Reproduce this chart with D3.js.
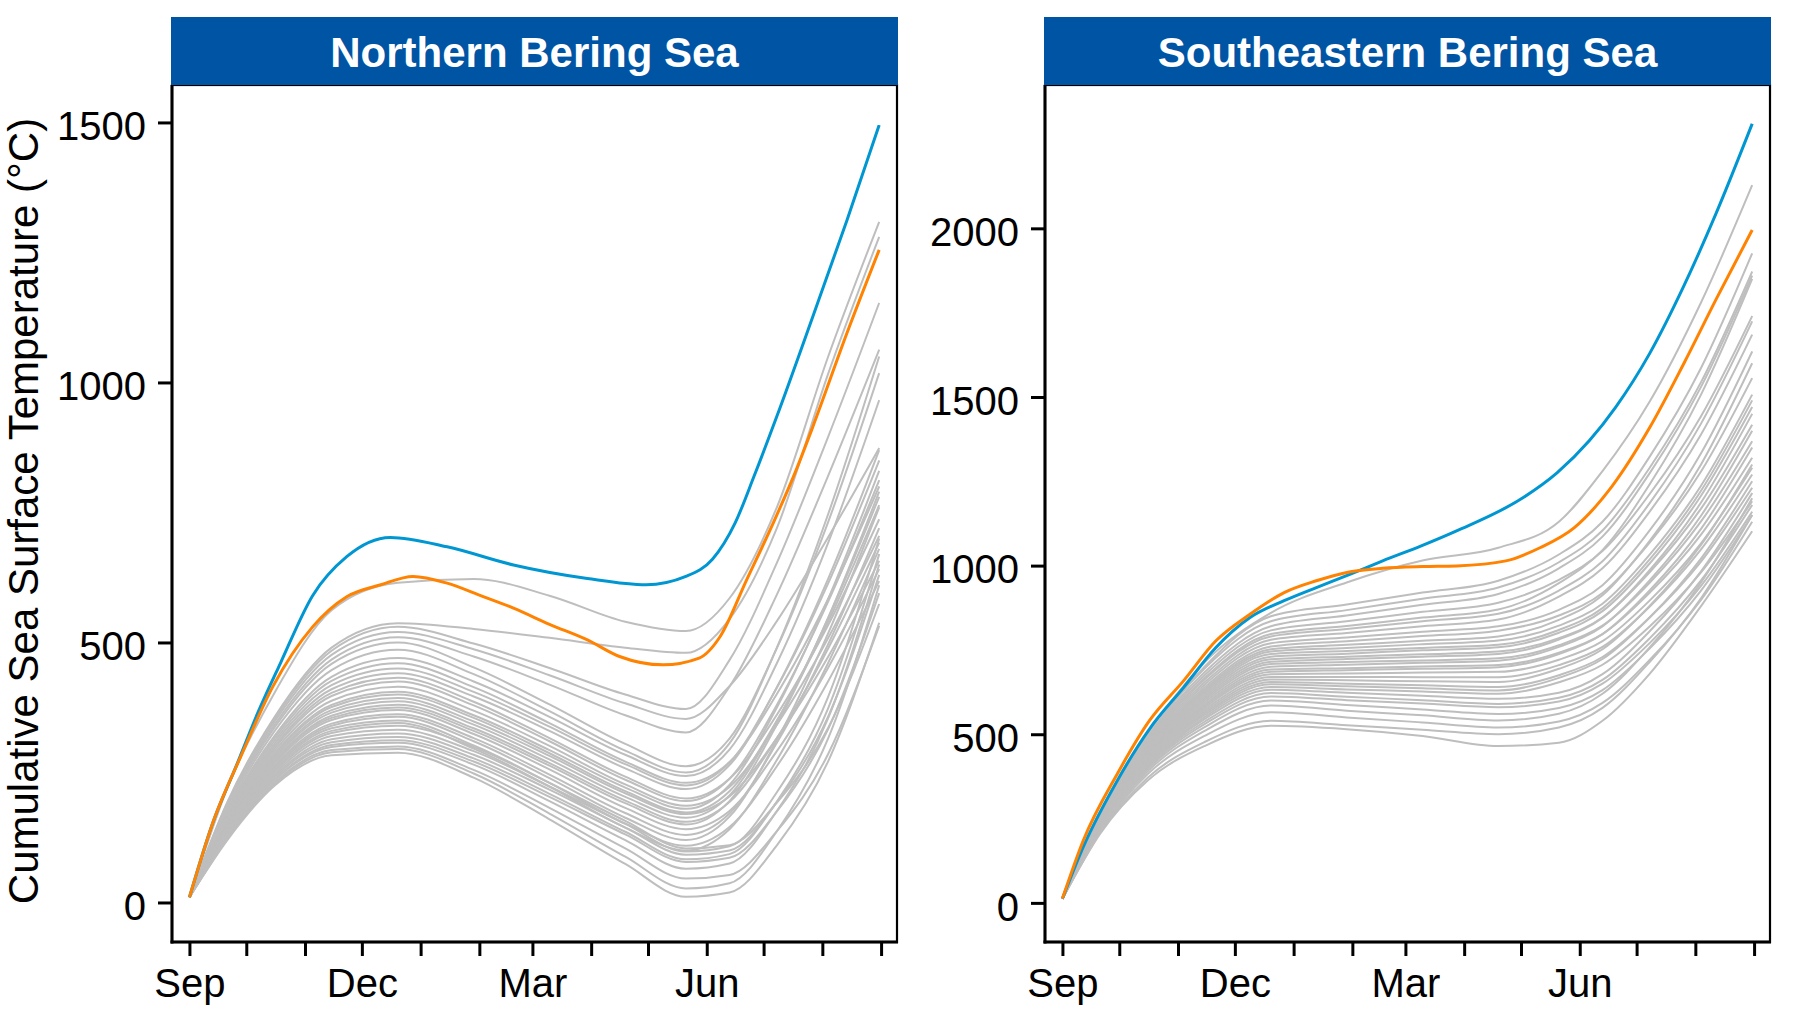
<!DOCTYPE html>
<html>
<head>
<meta charset="utf-8">
<script src="https://cdnjs.cloudflare.com/ajax/libs/d3/7.8.5/d3.min.js"></script>
<style>
  body { margin: 0; background: #fff; }
  text { font-family: "Liberation Sans", Arial, sans-serif; }
</style>
</head>
<body>
<script>
// days since Sep 1 at which the grey (historic) years are sampled
var sampleDays = [0, 20, 45, 75, 110, 150, 190, 230, 262, 285, 310, 337, 364];

var monthLabels = ["Sep", "Dec", "Mar", "Jun"];
var northTicks = [0, 500, 1000, 1500];
var southTicks = [0, 500, 1000, 1500, 2000];

// Northern Bering Sea
var northGray = [
  [10, 220, 404, 562, 615, 622, 590, 540, 522, 585, 760, 1049, 1309],
  [10, 193, 357, 490, 537, 526, 509, 490, 480, 545, 720, 1016, 1280],
  [10, 191, 353, 484, 530, 498, 451, 400, 372, 466, 653, 895, 1153],
  [10, 188, 348, 476, 520, 487, 437, 383, 353, 416, 541, 702, 874],
  [10, 185, 342, 467, 510, 473, 419, 360, 327, 415, 592, 820, 1063],
  [10, 183, 337, 459, 500, 452, 381, 305, 262, 315, 489, 731, 1018],
  [10, 178, 330, 447, 486, 439, 368, 292, 250, 306, 490, 746, 1050],
  [10, 174, 321, 434, 470, 425, 357, 284, 243, 294, 460, 691, 966],
  [10, 171, 316, 426, 460, 414, 345, 271, 230, 270, 401, 583, 800],
  [10, 168, 311, 418, 450, 405, 338, 266, 225, 269, 413, 613, 850],
  [10, 165, 306, 410, 441, 396, 330, 258, 218, 264, 414, 622, 870],
  [10, 162, 301, 403, 432, 386, 316, 242, 200, 238, 361, 533, 737],
  [10, 160, 297, 397, 425, 379, 310, 236, 195, 238, 380, 578, 812],
  [10, 157, 292, 388, 415, 369, 301, 227, 186, 222, 342, 508, 705],
  [10, 154, 287, 380, 405, 360, 293, 221, 180, 226, 375, 583, 830],
  [10, 153, 284, 376, 400, 355, 287, 214, 173, 214, 350, 539, 764],
  [10, 151, 280, 370, 393, 348, 282, 210, 170, 204, 316, 472, 657],
  [10, 149, 277, 365, 387, 342, 275, 203, 163, 206, 348, 546, 780],
  [10, 147, 273, 359, 380, 335, 268, 196, 155, 193, 316, 488, 692],
  [10, 146, 271, 355, 375, 330, 263, 191, 150, 195, 342, 547, 790],
  [10, 144, 268, 351, 370, 324, 256, 182, 141, 176, 291, 451, 641],
  [10, 142, 264, 344, 362, 316, 246, 172, 130, 171, 307, 496, 720],
  [10, 140, 261, 340, 357, 310, 239, 163, 120, 165, 312, 517, 760],
  [10, 138, 258, 335, 350, 302, 230, 152, 109, 145, 262, 425, 618],
  [10, 137, 255, 330, 345, 296, 223, 144, 100, 141, 274, 460, 680],
  [10, 135, 252, 326, 340, 299, 230, 157, 104, 110, 192, 335, 574],
  [10, 133, 248, 320, 332, 291, 223, 151, 98, 108, 212, 395, 700],
  [10, 131, 244, 314, 325, 284, 217, 144, 92, 100, 193, 357, 630],
  [10, 129, 241, 308, 318, 277, 209, 136, 83, 93, 194, 373, 670],
  [10, 127, 237, 303, 312, 271, 203, 131, 78, 86, 175, 333, 595],
  [10, 126, 235, 299, 307, 265, 195, 120, 65, 75, 176, 354, 650],
  [10, 124, 231, 293, 300, 255, 182, 104, 46, 53, 137, 285, 532],
  [10, 122, 228, 289, 295, 248, 171, 88, 27, 37, 137, 315, 610],
  [10, 120, 225, 283, 288, 240, 160, 74, 11, 19, 110, 271, 538]
];
var northBlueDays = [0, 12, 25, 36, 48, 65, 83, 106, 136, 171, 210, 241, 262, 276, 288, 298, 310, 329, 347, 364];
var northBlue = [10, 150, 265, 364, 460, 590, 665, 702, 684, 649, 623, 611, 627, 660, 730, 820, 935, 1127, 1312, 1495];
var northOrangeDays = [0, 13, 27, 44, 65, 83, 101, 118, 136, 153, 171, 190, 210, 227, 250, 269, 280, 294, 308, 320, 329, 347, 364];
var northOrange = [10, 160, 280, 415, 530, 588, 611, 627, 614, 591, 566, 535, 505, 473, 457, 470, 511, 620, 729, 830, 915, 1095, 1255];

// Southeastern Bering Sea
var southGray = [
  [12, 257, 500, 713, 860, 950, 1015, 1053, 1130, 1280, 1487, 1780, 2128],
  [12, 256, 490, 700, 850, 885, 920, 955, 1033, 1130, 1324, 1586, 1926],
  [12, 253, 492, 695, 835, 868, 902, 935, 1010, 1104, 1291, 1544, 1872],
  [12, 251, 486, 684, 820, 852, 884, 916, 992, 1086, 1275, 1530, 1860],
  [12, 249, 481, 675, 808, 835, 863, 890, 958, 1043, 1213, 1443, 1740],
  [12, 248, 477, 667, 797, 821, 846, 870, 948, 1046, 1242, 1507, 1850],
  [12, 247, 474, 662, 790, 812, 835, 857, 926, 1013, 1186, 1421, 1724],
  [12, 245, 470, 654, 780, 800, 820, 840, 908, 992, 1161, 1389, 1685],
  [12, 244, 466, 647, 770, 787, 804, 820, 869, 942, 1105, 1333, 1635],
  [12, 242, 462, 639, 760, 776, 791, 807, 852, 919, 1069, 1279, 1556],
  [12, 241, 458, 633, 752, 765, 777, 790, 839, 912, 1074, 1300, 1600],
  [12, 240, 455, 628, 745, 756, 767, 778, 822, 887, 1033, 1237, 1507],
  [12, 239, 453, 623, 738, 747, 756, 765, 809, 874, 1019, 1222, 1490],
  [12, 238, 449, 617, 730, 739, 749, 758, 801, 865, 1007, 1207, 1470],
  [12, 236, 446, 611, 722, 730, 737, 745, 785, 846, 981, 1169, 1418],
  [12, 235, 443, 606, 715, 723, 730, 738, 781, 845, 987, 1187, 1450],
  [12, 234, 440, 601, 708, 714, 719, 725, 764, 822, 950, 1131, 1369],
  [12, 233, 437, 595, 700, 706, 712, 718, 759, 820, 957, 1148, 1400],
  [12, 232, 434, 589, 692, 696, 701, 705, 742, 797, 920, 1092, 1320],
  [12, 231, 431, 584, 685, 690, 694, 699, 738, 797, 927, 1109, 1350],
  [12, 230, 428, 579, 678, 680, 683, 685, 721, 776, 897, 1066, 1290],
  [12, 229, 425, 573, 670, 670, 669, 669, 705, 759, 879, 1048, 1270],
  [12, 227, 421, 567, 662, 660, 657, 655, 694, 752, 881, 1061, 1300],
  [12, 226, 419, 562, 655, 650, 645, 640, 675, 729, 847, 1012, 1231],
  [12, 225, 416, 557, 648, 642, 636, 630, 667, 723, 847, 1021, 1250],
  [12, 224, 412, 551, 640, 633, 627, 620, 654, 706, 820, 980, 1191],
  [12, 223, 409, 545, 632, 623, 614, 605, 623, 678, 806, 983, 1215],
  [12, 221, 405, 537, 622, 611, 601, 590, 608, 661, 785, 956, 1180],
  [12, 220, 401, 530, 612, 601, 591, 580, 597, 650, 771, 940, 1160],
  [12, 218, 396, 521, 600, 587, 573, 560, 578, 631, 755, 926, 1150],
  [12, 216, 390, 510, 585, 570, 556, 541, 561, 620, 758, 950, 1200],
  [12, 213, 382, 495, 565, 550, 535, 520, 538, 593, 721, 898, 1130],
  [12, 209, 371, 477, 540, 527, 513, 500, 520, 578, 715, 903, 1150],
  [12, 206, 363, 465, 525, 515, 495, 465, 475, 540, 680, 880, 1102]
];
var southBlueDays = [0, 11, 29, 46, 64, 81, 99, 117, 134, 152, 169, 190, 208, 243, 261, 278, 292, 310, 328, 345, 364];
var southBlue = [13, 166, 363, 516, 639, 757, 846, 896, 935, 975, 1014, 1060, 1103, 1201, 1275, 1370, 1470, 1630, 1830, 2045, 2310];
var southOrangeDays = [0, 11, 29, 46, 64, 81, 99, 117, 134, 152, 169, 190, 208, 234, 252, 270, 290, 310, 328, 345, 364];
var southOrange = [13, 185, 383, 541, 659, 777, 856, 920, 955, 982, 992, 997, 999, 1014, 1053, 1112, 1235, 1410, 1600, 1790, 1995];

var width = 1800, height = 1012;
var plotTop = 85, plotBottom = 942;

var svg = d3.select("body").append("svg")
    .attr("width", width)
    .attr("height", height);

var seasonStart = Date.UTC(2018, 8, 1);
function dayToDate(d) { return new Date(seasonStart + d * 864e5); }

function pairs(days, vals) {
  return days.map(function (d, i) { return [d, vals[i]]; });
}

function drawPanel(p) {
  var x = d3.scaleUtc()
      .domain([dayToDate(-9.2), dayToDate(373.4)])
      .range([p.x0, p.x1]);
  var y = d3.scaleLinear().domain(p.yDomain).range([plotBottom, plotTop]);

  var line = d3.line()
      .x(function (d) { return x(dayToDate(d[0])); })
      .y(function (d) { return y(d[1]); })
      .curve(d3.curveMonotoneX);

  var g = svg.append("g");

  g.append("g").selectAll("path")
      .data(p.gray)
    .enter().append("path")
      .attr("d", function (vals) { return line(pairs(sampleDays, vals)); })
      .attr("fill", "none")
      .attr("stroke", "#bebebe")
      .attr("stroke-width", 2);

  g.append("path")
      .attr("d", line(pairs(p.blueDays, p.blue)))
      .attr("fill", "none")
      .attr("stroke", "#0096d2")
      .attr("stroke-width", 3);

  g.append("path")
      .attr("d", line(pairs(p.orangeDays, p.orange)))
      .attr("fill", "none")
      .attr("stroke", "#ff8200")
      .attr("stroke-width", 3);

  // frame
  g.append("rect")
      .attr("x", p.x0).attr("y", plotTop)
      .attr("width", p.x1 - p.x0).attr("height", plotBottom - plotTop)
      .attr("fill", "none").attr("stroke", "#000").attr("stroke-width", 2.2);
  g.append("line")
      .attr("x1", p.x0).attr("x2", p.x0).attr("y1", plotTop).attr("y2", plotBottom + 1.5)
      .attr("stroke", "#000").attr("stroke-width", 3);
  g.append("line")
      .attr("x1", p.x0 - 1.5).attr("x2", p.x1 + 1).attr("y1", plotBottom).attr("y2", plotBottom)
      .attr("stroke", "#000").attr("stroke-width", 3);

  // strip header
  g.append("rect")
      .attr("x", p.x0 - 1).attr("y", 17)
      .attr("width", p.x1 - p.x0 + 2).attr("height", plotTop - 17)
      .attr("fill", "#0054a4");
  g.append("text")
      .attr("x", (p.x0 + p.x1) / 2).attr("y", 67)
      .attr("text-anchor", "middle")
      .attr("fill", "#fff")
      .style("font-size", "42px")
      .style("font-weight", "bold")
      .text(p.title);

  // axes
  var months = d3.utcMonth.range(dayToDate(0), dayToDate(366));
  var xAxis = d3.axisBottom(x)
      .tickValues(months)
      .tickSize(14)
      .tickPadding(13)
      .tickFormat(function (d, i) { return i % 3 === 0 && i < 12 ? monthLabels[i / 3] : ""; });
  var ga = g.append("g").attr("transform", "translate(0," + plotBottom + ")").call(xAxis);
  ga.select(".domain").remove();
  ga.selectAll("line").attr("stroke", "#000").attr("stroke-width", 3);
  ga.selectAll("text").attr("fill", "#000").style("font-size", "40px").style("font-family", "Liberation Sans, Arial, sans-serif");

  var yAxis = d3.axisLeft(y).tickValues(p.yTicks).tickFormat(d3.format("d")).tickSize(14).tickPadding(12);
  var gy = g.append("g").attr("transform", "translate(" + p.x0 + ",0)").call(yAxis);
  gy.select(".domain").remove();
  gy.selectAll("line").attr("stroke", "#000").attr("stroke-width", 3);
  gy.selectAll("text").attr("fill", "#000").attr("dy", "0.43em")
      .style("font-size", "40px").style("font-family", "Liberation Sans, Arial, sans-serif");
}

drawPanel({
  x0: 172, x1: 897, title: "Northern Bering Sea",
  yDomain: [-76, 1572], yTicks: northTicks,
  gray: northGray,
  blueDays: northBlueDays, blue: northBlue,
  orangeDays: northOrangeDays, orange: northOrange
});

drawPanel({
  x0: 1045, x1: 1770, title: "Southeastern Bering Sea",
  yDomain: [-116, 2425], yTicks: southTicks,
  gray: southGray,
  blueDays: southBlueDays, blue: southBlue,
  orangeDays: southOrangeDays, orange: southOrange
});

svg.append("text")
    .attr("transform", "translate(38,511) rotate(-90)")
    .attr("text-anchor", "middle")
    .style("font-size", "42px")
    .attr("fill", "#000")
    .text("Cumulative Sea Surface Temperature (°C)");
</script>
</body>
</html>
